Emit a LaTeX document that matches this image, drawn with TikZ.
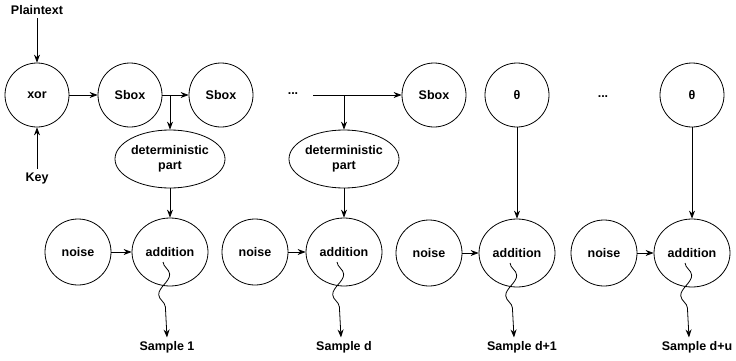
\documentclass[tikz,border=0pt]{standalone}
\usepackage{fontspec}
\setmainfont{Liberation Sans}
\usetikzlibrary{arrows.meta,shapes.geometric,decorations.pathmorphing}

\begin{document}
\begin{tikzpicture}[x=1pt,y=1pt,
	font=\fontsize{12.5}{15}\selectfont\bfseries, line width=0.8pt,
	circ/.style={draw,circle,minimum size=64pt,inner sep=0pt},
	ring/.style={draw,circle,minimum size=66pt,inner sep=0pt},
	oval/.style={draw,ellipse,minimum width=110pt,minimum height=58pt,inner sep=0pt,align=center},
	adder/.style={draw,ellipse,minimum width=76pt,minimum height=68pt,inner sep=0pt},
	wavy/.style={-{Stealth[length=8pt,width=6pt]},decorate,
		decoration={snake,amplitude=6pt,segment length=40pt,post length=14pt}}]
			\useasboundingbox (0,0) rectangle (736,360);
			\node (pt)  at (37, 350)	{Plaintext};
			\node (key) at (37, 182)	{Key};
			\node[circ] (xor) at (37, 265)	{xor};
			\node[circ] (sb1) at (130, 265)	{Sbox};
			\node[circ] (sb2) at (221, 265)	{Sbox};
			\node (dt1) at (293, 266)	{...};
			\node[circ] (sb3) at (434, 265)	{Sbox};
			\node[circ] (th1) at (517, 265)	{θ};
			\node (dt2) at (603, 263)	{...};
			\node[circ] (th2) at (692, 265)	{θ};
			\node[oval] (dp1) at (170, 201)	{deterministic\\part};
			\node[oval] (dp2) at (344, 201)	{deterministic\\part};
			\node[ring] (n1) at (78, 108)	{noise};
			\node[adder] (a1) at (170, 108)	{addition};
			\node[ring] (n2) at (255, 108)	{noise};
			\node[adder] (a2) at (344, 108)	{addition};
			\node[ring] (n3) at (429, 107)	{noise};
			\node[adder] (a3) at (517, 107)	{addition};
			\node[ring] (n4) at (604, 107)	{noise};
			\node[adder] (a4) at (692, 107)	{addition};
			\node (s1) at (167, 13)	{Sample 1};
			\node (s2) at (344, 13)	{Sample d};
			\node (s3) at (522, 13)	{Sample d+1};
			\node (s4) at (697, 13)	{Sample d+u};
			\coordinate (c1) at (313, 265);
			
			\def\list {xor/sb1, sb1/sb2, c1/sb3, n1/a1, n2/a2, n3/a3, n4/a4,
			pt/xor, key/xor, dp1/a1, dp2/a2, th1/a3, th2/a4}  % list elements
			\foreach \u\v in \list
			{	\draw[-{Stealth[length=8pt,width=6pt]}] (\u) -- (\v);
			}
			\def\branch {sb1/dp1, c1/dp2}  % list elements
			\foreach \u\v in \branch
			{	\draw[-{Stealth[length=8pt,width=6pt]}] (\u -| \v.north) -- (\v.north);
			}
			\def\out {a1/s1, a2/s2, a3/s3, a4/s4} %list elements
			\foreach \u\v in \out
			{   \draw[wavy] ([xshift=-7pt,yshift=-10pt]\u.center) -- ([xshift=-3pt]\u.center |- \v.north);
			}
		\end{tikzpicture}
\end{document}
